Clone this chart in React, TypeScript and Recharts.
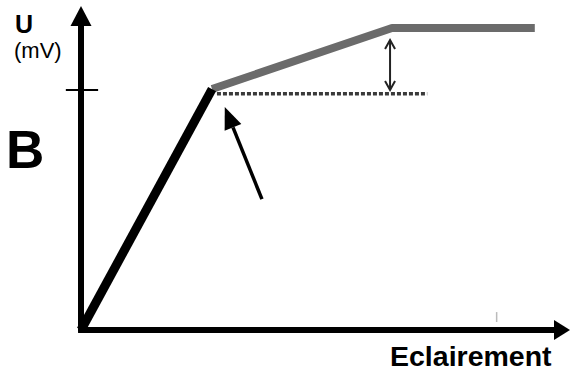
import React from "react"
import { LineChart, Line, XAxis, YAxis, ReferenceLine } from "recharts"

// response curve: linear rise, then slower rise, then plateau
const rise = [
  { x: 0, u: 0 },
  { x: 2.68, u: 7.53 },
]
const afterKnee = [
  { x: 2.68, u: 7.53 },
  { x: 6.36, u: 9.44 },
  { x: 9.28, u: 9.44 },
]
const baseline = [
  { x: 2.78, u: 7.38 },
  { x: 7.08, u: 7.38 },
]
const kneeLevel = 7.5
const gapArrow = { x: 6.32, from: 9.06, to: 7.5 }
const pointer = { from: { x: 3.7, y: 4.09 }, to: { x: 2.94, y: 6.97 } }

const W = 571
const H = 376
const font = "'Liberation Sans', Arial, sans-serif"

const filledArrow = (head: number, half: number, width: number) => (p: any) => {
  const { x1, y1, x2, y2 } = p
  const dx = x2 - x1
  const dy = y2 - y1
  const len = Math.hypot(dx, dy) || 1
  const ux = dx / len
  const uy = dy / len
  const bx = x2 - ux * head
  const by = y2 - uy * head
  return (
    <g>
      <line x1={x1} y1={y1} x2={bx} y2={by} stroke="#000" strokeWidth={width} />
      <polygon
        points={`${x2},${y2} ${bx - uy * half},${by + ux * half} ${bx + uy * half},${by - ux * half}`}
        fill="#000"
      />
    </g>
  )
}

const doubleArrow = (p: any) => {
  const { x1, y1, x2, y2 } = p
  const s = 5
  const top = Math.min(y1, y2)
  const bot = Math.max(y1, y2)
  return (
    <g stroke="#222" strokeWidth={2} fill="none">
      <line x1={x1} y1={top} x2={x2} y2={bot} />
      <polyline points={`${x1 - s},${top + 9} ${x1},${top} ${x1 + s},${top + 9}`} />
      <polyline points={`${x1 - s},${bot - 9} ${x1},${bot} ${x1 + s},${bot - 9}`} />
    </g>
  )
}

export default function App() {
  return (
    <div style={{ position: "absolute", left: 0, top: 0, width: W, height: H, background: "#fff" }}>
      <LineChart width={W} height={H} margin={{ top: 10, right: 1, left: 81, bottom: 46 }}>
        <XAxis type="number" dataKey="x" domain={[0, 10]} hide />
        <YAxis type="number" dataKey="u" domain={[0, 10]} hide />
        {/* axes with arrowheads */}
        <ReferenceLine
          segment={[{ x: 0, y: -0.05 }, { x: 0, y: 10.125 }]}
          ifOverflow="visible"
          shape={filledArrow(20, 10.5, 6)}
        />
        <ReferenceLine
          segment={[{ x: -0.06, y: 0 }, { x: 10, y: 0 }]}
          ifOverflow="visible"
          shape={filledArrow(16, 10, 6)}
        />
        <ReferenceLine
          segment={[{ x: -0.31, y: kneeLevel }, { x: 0.35, y: kneeLevel }]}
          ifOverflow="visible"
          stroke="#000"
          strokeWidth={2}
        />
        <ReferenceLine
          segment={[{ x: 8.5, y: 0.25 }, { x: 8.5, y: 0.56 }]}
          ifOverflow="visible"
          stroke="#bbb"
          strokeWidth={1.5}
        />
        <Line
          data={baseline}
          dataKey="u"
          stroke="#3a3a3a"
          strokeWidth={3.5}
          strokeDasharray="4 2"
          dot={false}
          isAnimationActive={false}
        />
        <Line
          data={afterKnee}
          dataKey="u"
          stroke="#6b6b6b"
          strokeWidth={8}
          strokeLinejoin="round"
          dot={false}
          isAnimationActive={false}
        />
        <Line
          data={rise}
          dataKey="u"
          stroke="#000"
          strokeWidth={9}
          dot={false}
          isAnimationActive={false}
        />
        <ReferenceLine
          segment={[{ x: gapArrow.x, y: gapArrow.from }, { x: gapArrow.x, y: gapArrow.to }]}
          ifOverflow="visible"
          shape={doubleArrow}
        />
        <ReferenceLine
          segment={[pointer.from, pointer.to]}
          ifOverflow="visible"
          shape={filledArrow(22, 9, 3.5)}
        />
      </LineChart>
      <svg
        width={W}
        height={H}
        style={{ position: "absolute", left: 0, top: 0, pointerEvents: "none" }}
        fontFamily={font}
      >
        <text x={15} y={33} fontSize={25} fontWeight="bold">U</text>
        <text x={14} y={58} fontSize={22}>(mV)</text>
        <text x={6} y={168} fontSize={53} fontWeight="bold">B</text>
        <text x={390} y={366} fontSize={28.5} fontWeight="bold">Eclairement</text>
      </svg>
    </div>
  )
}
